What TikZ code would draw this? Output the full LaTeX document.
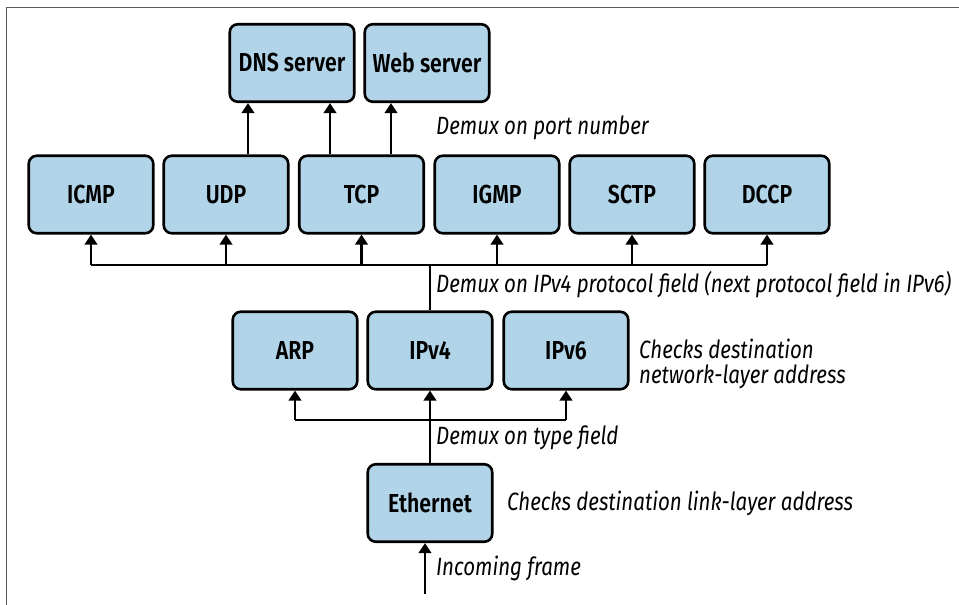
\documentclass[tikz,border=0pt]{standalone}
\usepackage{fontspec}
\setmainfont{Fira Sans}[FakeStretch=0.82]
\newfontfamily\boxfont{Fira Sans SemiBold}[FakeStretch=0.82]
\usetikzlibrary{arrows.meta}
\definecolor{boxblue}{RGB}{178,212,232}
\definecolor{framegray}{RGB}{90,90,90}

\begin{document}
\begin{tikzpicture}[x=1pt,y=-1pt,
  proto/.style={draw=black,line width=2.6pt,rounded corners=8pt,fill=boxblue,
    minimum width=124.5pt,minimum height=77.5pt,inner sep=0pt,
    font=\fontsize{26}{28}\boxfont},
  note/.style={anchor=west,align=left,inner sep=0pt,
    font=\fontsize{25}{24.5}\selectfont\itshape},
  link/.style={line width=2.4pt},
  arr/.style={link,-{Triangle[length=10pt,width=12.5pt]}}]
\useasboundingbox (0,0) rectangle (959,605);
\draw[framegray,line width=1pt] (959,7) -- (6,7) -- (6,605);

% servers
\node[proto] (dns) at (292,63) {DNS server};
\node[proto] (web) at (427,63) {Web server};

% transport layer
\node[proto] (icmp) at (91,194.5) {ICMP};
\node[proto] (udp) at (226,194.5) {UDP};
\node[proto] (tcp) at (361.5,194.5) {TCP};
\node[proto] (igmp) at (497,194.5) {IGMP};
\node[proto] (sctp) at (632,194.5) {SCTP};
\node[proto] (dccp) at (767,194.5) {DCCP};

% network layer
\node[proto] (arp) at (295,350.5) {ARP};
\node[proto] (ipv4) at (430,350.5) {IPv4};
\node[proto] (ipv6) at (566,350.5) {IPv6};

% link layer
\node[proto] (eth) at (430,503) {Ethernet};
\coordinate (in) at (425,594);

% notes
\node[note] (portnote) at (436,128) {Demux on port number};
\node[note] (protonote) at (436,285) {Demux on IPv4 protocol field (next protocol field in IPv6)};
\node[note] (netnote) at (639,364) {Checks destination\\network-layer address};
\node[note] (typenote) at (436,438) {Demux on type field};
\node[note] (linknote) at (507,503) {Checks destination link-layer address};
\node[note] (innote) at (436,568) {Incoming frame};

% port demux
\draw[arr] (udp.north -| 248,0) -- (dns.south -| 248,0);
\draw[arr] (tcp.north -| 330,0) -- (dns.south -| 330,0);
\draw[arr] (tcp.north -| 391,0) -- (web.south -| 391,0);

% protocol demux
\coordinate (bus) at (430,265);
\draw[link] (ipv4.north) -- (bus);
\draw[link] (icmp |- bus) -- (dccp |- bus);
\foreach \p in {icmp,udp,tcp,igmp,sctp,dccp}
  \draw[arr] (\p |- bus) -- (\p.south);

% type demux
\coordinate (tbus) at (430,420);
\draw[link] (arp |- tbus) -- (ipv6 |- tbus);
\draw[link] (eth.north) -- (tbus);
\foreach \p in {arp,ipv4,ipv6}
  \draw[arr] (\p |- tbus) -- (\p.south);

% incoming
\draw[arr] (in) -- (in |- eth.south);
\end{tikzpicture}
\end{document}
